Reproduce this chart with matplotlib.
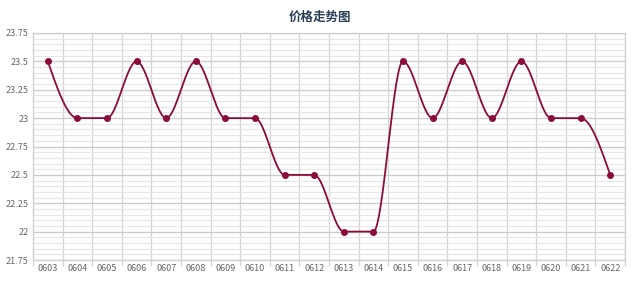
import numpy as np
import matplotlib
matplotlib.use("Agg")
import matplotlib.pyplot as plt
from matplotlib.ticker import MultipleLocator, FuncFormatter

plt.rcParams['font.family'] = ['Noto Sans CJK SC', 'DejaVu Sans']

dates = ['0603', '0604', '0605', '0606', '0607', '0608', '0609', '0610', '0611', '0612',
         '0613', '0614', '0615', '0616', '0617', '0618', '0619', '0620', '0621', '0622']
prices = [23.5, 23, 23, 23.5, 23, 23.5, 23, 23, 22.5, 22.5,
          22, 22, 23.5, 23, 23.5, 23, 23.5, 23, 23, 22.5]


def pchip(x, y, xs):
    # monotone cubic (Fritsch-Carlson) so flat runs stay flat
    x = np.asarray(x, float)
    y = np.asarray(y, float)
    h = np.diff(x)
    d = np.diff(y) / h
    n = len(x)
    m = np.zeros(n)
    for k in range(1, n - 1):
        if d[k - 1] * d[k] > 0:
            w1 = 2 * h[k] + h[k - 1]
            w2 = h[k] + 2 * h[k - 1]
            m[k] = (w1 + w2) / (w1 / d[k - 1] + w2 / d[k])
    def end(h0, h1, d0, d1):
        s = ((2 * h0 + h1) * d0 - h0 * d1) / (h0 + h1)
        if np.sign(s) != np.sign(d0):
            s = 0
        elif np.sign(d0) != np.sign(d1) and abs(s) > abs(3 * d0):
            s = 3 * d0
        return s
    m[0] = end(h[0], h[1], d[0], d[1])
    m[-1] = end(h[-1], h[-2], d[-1], d[-2])
    idx = np.clip(np.searchsorted(x, xs) - 1, 0, n - 2)
    t = (xs - x[idx]) / h[idx]
    h00 = 2 * t**3 - 3 * t**2 + 1
    h10 = t**3 - 2 * t**2 + t
    h01 = -2 * t**3 + 3 * t**2
    h11 = t**3 - t**2
    return h00 * y[idx] + h10 * h[idx] * m[idx] + h01 * y[idx + 1] + h11 * h[idx] * m[idx + 1]


fig = plt.figure(figsize=(6.4, 2.81), dpi=100)
ax = fig.add_axes([33 / 640, 1 - 260 / 281, 592 / 640, 227 / 281])

xi = np.arange(len(dates))
xs = np.linspace(0, len(dates) - 1, 1000)
line_color = '#8a0c3c'
ax.plot(xs, pchip(xi, prices, xs), color=line_color, lw=1.3, zorder=3)
ax.plot(xi, prices, 'o', color=line_color, ms=4, zorder=4)

ax.set_xlim(-0.5, len(dates) - 0.5)
ax.set_ylim(21.75, 23.75)

ax.set_xticks(xi)
ax.set_xticklabels(dates)
ax.set_xticks(np.arange(-0.5, len(dates), 1), minor=True)
ax.yaxis.set_major_locator(MultipleLocator(0.25))
ax.yaxis.set_minor_locator(MultipleLocator(0.05))
ax.yaxis.set_major_formatter(FuncFormatter(lambda v, p: ('%.2f' % v).rstrip('0').rstrip('.')))

ax.grid(axis='x', which='minor', color='#d4d4d4', lw=0.9)
ax.grid(axis='y', which='minor', color='#e6e6e6', lw=0.8)
ax.grid(axis='y', which='major', color='#cccccc', lw=1.0)
ax.set_axisbelow(True)

ax.tick_params(axis='x', which='major', length=0, pad=3, labelsize=6.5, colors='#666666')
ax.tick_params(axis='x', which='minor', length=4, color='#d4d4d4', width=0.9)
ax.tick_params(axis='y', which='both', length=0, pad=3, labelsize=6.5, colors='#666666')

for s in ax.spines.values():
    s.set_color('#cfcfcf')
    s.set_linewidth(0.9)

fig.text(0.5, 1 - 17 / 281, '价格走势图', ha='center', va='center', fontsize=9,
         fontweight='bold', color='#2b3f57')

fig.savefig('out.png', dpi=100)
